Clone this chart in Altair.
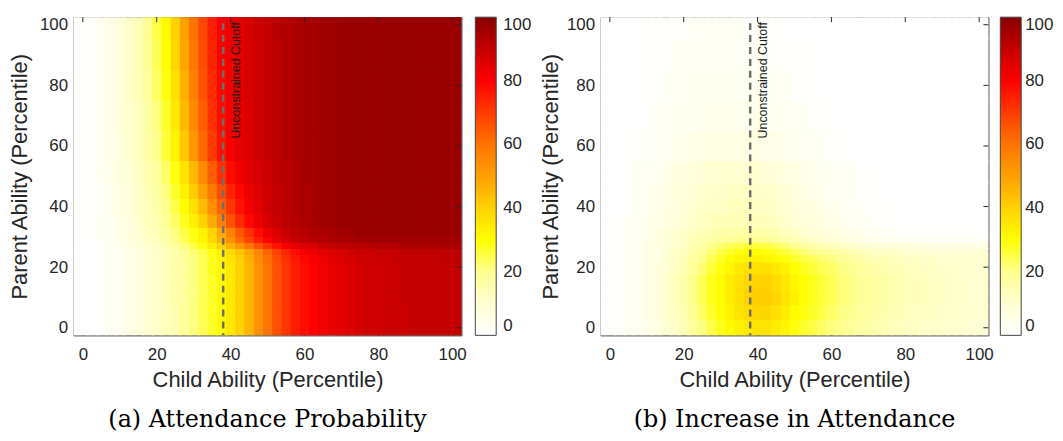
import altair as alt
import pandas as pd

# ---------------- data ----------------
CHILD = [0, 2.5, 5, 7.5, 10, 12.5, 15, 17.5, 20, 22.5, 25, 27.5, 30, 32.5, 35, 37.5, 40, 42.5, 45, 47.5,
         50, 52.5, 55, 57.5, 60, 62.5, 65, 67.5, 70, 72.5, 75, 77.5, 80, 82.5, 85, 87.5, 90, 92.5, 95, 97.5, 100]
PARENT = [0, 5, 10, 15, 20, 23, 25, 27, 29, 31, 35, 40, 45, 50, 60, 70, 80, 90, 100]

# Attendance probability (%): one row per PARENT level, one column per CHILD level
ATTEND = [
    [0, 0, 1, 2, 3, 5, 7, 9, 11, 13, 15, 18, 21, 24, 27, 31, 35, 40, 46, 53, 60, 66, 71, 75, 78, 80, 82, 84, 85, 86, 87, 88, 88, 89, 89, 89, 90, 90, 90, 90, 90],
    [0, 0, 1, 2, 3, 5, 7, 9, 11, 13, 15, 18, 21, 24, 27, 31, 35, 40, 46, 53, 60, 66, 71, 75, 78, 80, 82, 84, 85, 86, 87, 88, 88, 89, 89, 89, 90, 90, 90, 90, 90],
    [0, 0, 1, 2, 3, 5, 7, 9, 11, 13, 16, 18, 21, 24, 27, 31, 35, 40, 46, 53, 60, 66, 71, 75, 78, 80, 82, 84, 85, 86, 87, 88, 88, 89, 89, 90, 90, 90, 90, 90, 90],
    [0, 0, 1, 2, 3, 5, 7, 9, 11, 13, 16, 18, 21, 24, 27, 31, 35, 40, 46, 53, 60, 66, 71, 75, 78, 80, 82, 84, 85, 86, 87, 88, 88, 89, 89, 90, 90, 90, 90, 90, 90],
    [0, 0, 1, 2, 3, 5, 7, 9, 11, 13, 16, 18, 21, 24, 28, 31, 35, 40, 46, 53, 60, 66, 71, 75, 78, 80, 82, 84, 85, 86, 87, 88, 88, 89, 89, 90, 90, 90, 90, 90, 90],
    [0, 0, 1, 2, 3, 5, 7, 9, 11, 13, 16, 18, 21, 24, 28, 32, 36, 41, 47, 54, 61, 67, 72, 76, 79, 81, 83, 85, 86, 87, 88, 88, 89, 89, 90, 90, 90, 90, 90, 91, 91],
    [0, 0, 1, 2, 3, 5, 7, 9, 11, 13, 16, 19, 22, 25, 29, 33, 38, 43, 49, 56, 63, 69, 74, 78, 81, 83, 85, 86, 87, 88, 89, 89, 90, 90, 90, 91, 91, 91, 91, 91, 91],
    [0, 0, 1, 2, 4, 6, 8, 10, 12, 15, 18, 21, 25, 29, 34, 40, 47, 53, 60, 66, 72, 77, 81, 84, 86, 87, 89, 90, 91, 92, 92, 92, 93, 93, 93, 94, 94, 94, 94, 94, 94],
    [1, 1, 2, 3, 5, 7, 9, 11, 13, 16, 20, 24, 28, 32, 39, 46, 54, 62, 69, 75, 80, 84, 87, 90, 91, 92, 93, 94, 95, 95, 96, 96, 96, 96, 96, 96, 96, 96, 96, 96, 96],
    [1, 1, 2, 3, 5, 7, 10, 12, 14, 17, 21, 25, 29, 33, 40, 48, 57, 65, 72, 78, 83, 86, 89, 91, 92, 93, 94, 95, 96, 96, 97, 97, 97, 97, 97, 97, 97, 97, 97, 97, 97],
    [1, 1, 2, 3, 5, 7, 10, 13, 15, 19, 23, 28, 33, 40, 48, 57, 66, 73, 79, 83, 87, 89, 91, 93, 94, 95, 96, 96, 97, 97, 97, 97, 97, 97, 97, 97, 97, 97, 97, 97, 97],
    [1, 1, 2, 4, 6, 8, 11, 13, 16, 20, 25, 30, 37, 45, 54, 63, 71, 77, 82, 85, 88, 90, 92, 93, 94, 95, 96, 96, 97, 97, 97, 97, 97, 97, 97, 97, 97, 97, 97, 97, 97],
    [1, 1, 2, 4, 6, 8, 11, 14, 17, 21, 27, 33, 41, 50, 59, 67, 74, 79, 83, 86, 88, 90, 92, 93, 94, 95, 96, 96, 97, 97, 97, 97, 97, 97, 97, 97, 97, 97, 97, 97, 97],
    [1, 1, 3, 4, 7, 9, 12, 15, 18, 23, 29, 36, 45, 55, 64, 72, 78, 82, 85, 87, 89, 91, 92, 93, 95, 95, 96, 96, 97, 97, 97, 97, 97, 97, 97, 97, 97, 97, 97, 97, 97],
    [1, 1, 3, 5, 7, 10, 13, 16, 20, 26, 33, 42, 52, 62, 70, 77, 81, 84, 86, 88, 90, 91, 93, 94, 95, 95, 96, 96, 97, 97, 97, 97, 97, 97, 97, 97, 97, 97, 97, 97, 97],
    [1, 1, 3, 5, 8, 10, 13, 17, 21, 27, 35, 45, 55, 64, 72, 78, 81, 84, 86, 88, 90, 91, 93, 94, 95, 95, 96, 96, 97, 97, 97, 97, 97, 97, 97, 97, 97, 97, 97, 97, 97],
    [1, 1, 3, 5, 8, 11, 14, 18, 23, 29, 37, 47, 57, 66, 73, 79, 82, 85, 87, 88, 90, 91, 93, 94, 95, 95, 96, 96, 97, 97, 97, 97, 97, 97, 97, 97, 97, 97, 97, 97, 97],
    [1, 1, 3, 5, 8, 11, 14, 19, 24, 30, 39, 49, 59, 67, 74, 80, 82, 85, 87, 88, 90, 91, 93, 94, 95, 95, 96, 96, 97, 97, 97, 97, 97, 97, 97, 97, 97, 97, 97, 97, 97],
    [1, 1, 3, 5, 8, 11, 14, 19, 25, 31, 40, 50, 60, 68, 75, 80, 82, 85, 87, 89, 90, 92, 93, 94, 95, 95, 96, 96, 97, 97, 97, 97, 97, 97, 97, 97, 97, 97, 97, 97, 97],
]

# Increase in attendance (percentage points)
INCREASE = [
    [0, 1, 2, 3, 4, 6, 9, 11, 14, 18, 21, 25, 28, 31, 33, 35, 36, 36, 34, 32, 29, 27, 25, 23, 21, 20, 19, 17, 16, 15, 14, 13, 12, 12, 11, 11, 11, 10, 10, 9, 9],
    [0, 1, 2, 3, 5, 7, 10, 12, 15, 19, 23, 27, 30, 33, 36, 38, 39, 39, 37, 34, 31, 29, 27, 25, 23, 21, 20, 18, 17, 16, 15, 14, 13, 12, 12, 12, 11, 11, 10, 10, 10],
    [0, 1, 2, 3, 5, 7, 10, 13, 16, 20, 24, 28, 31, 34, 37, 40, 41, 41, 39, 36, 33, 30, 28, 26, 24, 22, 21, 19, 18, 17, 16, 15, 14, 13, 13, 12, 12, 11, 11, 10, 10],
    [0, 1, 2, 3, 5, 7, 10, 13, 16, 20, 24, 28, 31, 34, 37, 39, 40, 40, 38, 35, 32, 30, 28, 26, 24, 22, 21, 19, 18, 17, 16, 15, 14, 13, 13, 12, 12, 11, 11, 10, 10],
    [0, 1, 2, 3, 5, 7, 9, 12, 15, 18, 22, 26, 29, 32, 35, 37, 37, 37, 35, 33, 30, 28, 26, 24, 23, 21, 20, 18, 17, 16, 15, 14, 13, 13, 12, 12, 11, 11, 10, 10, 10],
    [0, 1, 2, 3, 5, 6, 9, 11, 14, 17, 20, 24, 27, 30, 32, 33, 33, 32, 31, 29, 27, 25, 24, 22, 21, 19, 18, 16, 15, 14, 14, 13, 12, 12, 11, 11, 10, 10, 10, 10, 10],
    [0, 1, 2, 3, 5, 6, 9, 11, 13, 16, 19, 22, 25, 27, 29, 30, 30, 29, 28, 26, 24, 22, 20, 19, 18, 16, 15, 14, 13, 12, 12, 11, 10, 10, 10, 9, 9, 9, 9, 9, 9],
    [0, 1, 2, 3, 5, 6, 8, 10, 12, 15, 17, 20, 22, 24, 25, 26, 26, 25, 24, 22, 20, 18, 16, 15, 14, 12, 11, 10, 9, 9, 8, 8, 7, 7, 7, 6, 6, 6, 6, 6, 6],
    [0, 1, 2, 3, 5, 6, 8, 10, 12, 14, 15, 17, 18, 19, 20, 20, 20, 19, 18, 16, 14, 13, 11, 10, 9, 8, 7, 6, 5, 4, 4, 3, 3, 3, 2, 2, 2, 2, 2, 2, 2],
    [0, 1, 2, 3, 4, 6, 8, 10, 11, 13, 14, 15, 16, 16, 17, 17, 16, 16, 15, 13, 12, 10, 9, 8, 7, 6, 5, 4, 3, 3, 2, 2, 1, 1, 1, 1, 1, 1, 1, 1, 1],
    [0, 1, 2, 3, 4, 5, 7, 8, 10, 11, 12, 13, 14, 14, 14, 14, 13, 13, 12, 11, 9, 8, 7, 6, 5, 4, 3, 2, 2, 1, 1, 1, 0, 0, 0, 0, 0, 0, 0, 0, 0],
    [0, 0, 1, 2, 3, 4, 6, 7, 9, 10, 11, 12, 12, 13, 13, 13, 12, 12, 11, 10, 8, 7, 6, 5, 4, 3, 2, 2, 1, 1, 1, 0, 0, 0, 0, 0, 0, 0, 0, 0, 0],
    [0, 0, 1, 2, 3, 4, 5, 7, 8, 9, 10, 11, 11, 12, 12, 12, 11, 11, 10, 9, 7, 6, 5, 4, 3, 3, 2, 1, 1, 1, 0, 0, 0, 0, 0, 0, 0, 0, 0, 0, 0],
    [0, 0, 1, 2, 2, 3, 4, 6, 7, 8, 9, 10, 10, 10, 10, 10, 10, 9, 8, 7, 6, 5, 4, 3, 3, 2, 2, 1, 1, 0, 0, 0, 0, 0, 0, 0, 0, 0, 0, 0, 0],
    [0, 0, 1, 1, 2, 2, 3, 4, 4, 5, 5, 6, 6, 6, 6, 6, 6, 5, 5, 4, 3, 3, 2, 2, 1, 1, 1, 0, 0, 0, 0, 0, 0, 0, 0, 0, 0, 0, 0, 0, 0],
    [0, 0, 0, 1, 1, 2, 2, 3, 3, 3, 4, 4, 4, 4, 4, 4, 4, 3, 3, 3, 2, 2, 1, 1, 1, 0, 0, 0, 0, 0, 0, 0, 0, 0, 0, 0, 0, 0, 0, 0, 0],
    [0, 0, 0, 1, 1, 1, 2, 2, 2, 3, 3, 3, 3, 3, 3, 3, 3, 2, 2, 2, 1, 1, 1, 0, 0, 0, 0, 0, 0, 0, 0, 0, 0, 0, 0, 0, 0, 0, 0, 0, 0],
    [0, 0, 0, 0, 1, 1, 1, 2, 2, 2, 2, 2, 2, 2, 2, 2, 2, 2, 1, 1, 1, 1, 0, 0, 0, 0, 0, 0, 0, 0, 0, 0, 0, 0, 0, 0, 0, 0, 0, 0, 0],
    [0, 0, 0, 0, 1, 1, 1, 1, 1, 2, 2, 2, 2, 2, 2, 1, 1, 1, 1, 1, 0, 0, 0, 0, 0, 0, 0, 0, 0, 0, 0, 0, 0, 0, 0, 0, 0, 0, 0, 0, 0],
]

CUTOFF = [38]
CUTOFF_LABEL = ["Unconstrained Cutoff"]
TICKS = [0, 20, 40, 60, 80, 100]
CAPTIONS = ["(a) Attendance Probability", "(b) Increase in Attendance"]
X_TITLE = "Child Ability (Percentile)"
Y_TITLE = "Parent Ability (Percentile)"

COLOR_STOPS = [0, 10, 20, 30, 40, 50, 60, 70, 80, 90, 100]
COLOR_RANGE = ["#ffffff", "#ffffd2", "#ffff90", "#ffff00", "#ffd200", "#ffa000",
               "#ff7400", "#ff3c00", "#ff0000", "#c40000", "#880000"]

for m in (ATTEND, INCREASE):
    assert len(m) == len(PARENT)
    for r in m:
        assert len(r) == len(CHILD), len(r)

# ---------------- layout / style ----------------
W, H = 390, 320
LO, HI = -2.5, 102.5
OVERLAP = 0.35  # small overlap between neighbouring cells so no hairline seams show
AX = "#262626"
SANS = "Liberation Sans, Arial, Helvetica, sans-serif"
SERIF = "DejaVu Serif, serif"


def edges(centers):
    mids = [(a + b) / 2 for a, b in zip(centers[:-1], centers[1:])]
    return [LO] + mids, [min(m + OVERLAP, HI) for m in mids] + [HI]


def panel(matrix, caption, y_title_pad, cb_offset, cb_label_offset):
    cx0, cx1 = edges(CHILD)
    py0, py1 = edges(PARENT)
    rows = []
    for i in range(len(PARENT)):
        for j in range(len(CHILD)):
            rows.append({"x0": cx0[j], "x1": cx1[j], "y0": py0[i], "y1": py1[i],
                         "v": matrix[i][j]})
    df = pd.DataFrame(rows)

    xs = alt.Scale(domain=[LO, HI], nice=False, zero=False)
    ys = alt.Scale(domain=[LO, HI], nice=False, zero=False)
    cs = alt.Scale(domain=COLOR_STOPS, range=COLOR_RANGE, interpolate="rgb")

    xaxis = alt.Axis(values=TICKS, tickSize=5, offset=-5, domain=False, grid=False,
                     labelPadding=11, titlePadding=7, labelFontSize=17,
                     titleFontSize=22, labelFont=SANS, titleFont=SANS,
                     titleFontWeight="normal", labelColor=AX, titleColor=AX,
                     tickColor=AX)
    yaxis = alt.Axis(values=TICKS, tickSize=5, offset=-5, domain=False, grid=False,
                     labelPadding=6, titlePadding=y_title_pad, labelFontSize=17,
                     titleFontSize=22, labelFont=SANS, titleFont=SANS,
                     titleFontWeight="normal", labelColor=AX, titleColor=AX,
                     tickColor=AX)

    heat = alt.Chart(df).mark_rect().encode(
        x=alt.X("x0:Q", scale=xs, title=X_TITLE, axis=xaxis),
        x2="x1:Q",
        y=alt.Y("y0:Q", scale=ys, title=Y_TITLE, axis=yaxis),
        y2="y1:Q",
        color=alt.Color("v:Q", scale=cs,
                        legend=alt.Legend(title=None, orient="right", direction="vertical",
                                          type="gradient",
                                          gradientLength=H, gradientThickness=21,
                                          values=TICKS, labelFontSize=17, labelFont=SANS,
                                          labelColor=AX, labelOffset=cb_label_offset,
                                          labelBaseline="middle",
                                          gradientStrokeColor="#444", gradientStrokeWidth=1,
                                          offset=cb_offset, padding=0)),
    )

    cut = pd.DataFrame({"c": CUTOFF, "label": CUTOFF_LABEL})
    rule = alt.Chart(cut).mark_rule(color="#6e6e6e", strokeWidth=2.5, strokeDash=[7, 5]).encode(
        x=alt.X("c:Q", scale=xs, title=X_TITLE, axis=xaxis),
        y=alt.value(6), y2=alt.value(H),
    )
    text = alt.Chart(cut).mark_text(angle=270, align="right", baseline="alphabetic", dy=17,
                                    font=SANS, fontSize=12.5, color="#1a1a1a").encode(
        x=alt.X("c:Q", scale=xs, title=X_TITLE, axis=xaxis),
        y=alt.value(5),
        text="label:N",
    )

    tk = pd.DataFrame({"t": TICKS})
    top_ticks = alt.Chart(tk).mark_rule(color=AX, strokeWidth=1).encode(
        x=alt.X("t:Q", scale=xs, title=X_TITLE, axis=xaxis), y=alt.value(0), y2=alt.value(5))
    right_ticks = alt.Chart(tk).mark_rule(color=AX, strokeWidth=1).encode(
        y=alt.Y("t:Q", scale=ys, title=Y_TITLE, axis=yaxis), x=alt.value(W - 5), x2=alt.value(W))

    return alt.layer(heat, rule, text, top_ticks, right_ticks).properties(
        width=W, height=H,
        title=alt.TitleParams(caption, orient="bottom", anchor="middle", font=SERIF,
                              fontSize=24, fontWeight="normal", color="#000000", offset=18),
    )


left = panel(ATTEND, CAPTIONS[0], y_title_pad=8, cb_offset=14, cb_label_offset=7)
right = panel(INCREASE, CAPTIONS[1], y_title_pad=4, cb_offset=12, cb_label_offset=4)

chart = alt.hconcat(left, right, spacing=6).resolve_scale(
    color="independent"
).properties(
    padding={"left": 0, "top": 6, "right": 0, "bottom": 0}
).configure_view(stroke=AX, strokeWidth=1)

chart.save("out.html", embed_options={"renderer": "svg", "actions": False})
